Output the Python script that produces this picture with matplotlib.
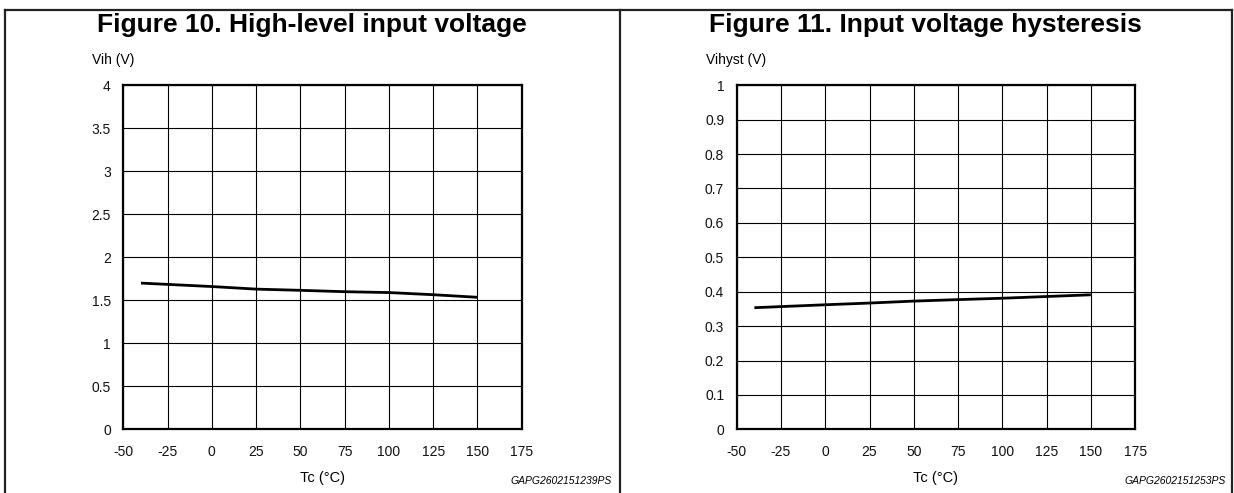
import matplotlib
matplotlib.use("Agg")
import matplotlib.pyplot as plt
from matplotlib.lines import Line2D

plt.rcParams['font.family'] = ['Liberation Sans', 'DejaVu Sans']

# data
tc = [-40, 0, 25, 50, 75, 100, 125, 150]
vih = [1.70, 1.66, 1.63, 1.616, 1.60, 1.59, 1.565, 1.535]
vihyst = [0.3535, 0.362, 0.367, 0.3727, 0.377, 0.381, 0.386, 0.391]

x_ticks = [-50, -25, 0, 25, 50, 75, 100, 125, 150, 175]
vih_ticks = [0, 0.5, 1, 1.5, 2, 2.5, 3, 3.5, 4]
vihyst_ticks = [0, 0.1, 0.2, 0.3, 0.4, 0.5, 0.6, 0.7, 0.8, 0.9, 1]

panels = [
    dict(title="Figure 10. High-level input voltage", ylabel="Vih (V)", y=vih,
         yticks=vih_ticks, ylabels=["0", "0.5", "1", "1.5", "2", "2.5", "3", "3.5", "4"],
         code="GAPG2602151239PS", left=0.0999, cx=(5 + 619.5) / 2 / 1234),
    dict(title="Figure 11. Input voltage hysteresis", ylabel="Vihyst (V)", y=vihyst,
         yticks=vihyst_ticks, ylabels=["0", "0.1", "0.2", "0.3", "0.4", "0.5", "0.6", "0.7", "0.8", "0.9", "1"],
         code="GAPG2602151253PS", left=0.597, cx=(619.5 + 1232) / 2 / 1234),
]

fig = plt.figure(figsize=(12.34, 4.93), dpi=100)

# outer frame and divider
top = 1 - 10/493
for xs, ys in [([5/1234, 5/1234], [0, top]),
               ([5/1234, 1232/1234], [top, top]),
               ([1232/1234, 1232/1234], [0, top]),
               ([619.5/1234, 619.5/1234], [0, top])]:
    fig.add_artist(Line2D(xs, ys, color='#222222', lw=1.6, transform=fig.transFigure))

for p in panels:
    ax = fig.add_axes([p["left"], 0.1292, 0.3229, 0.6978])
    ax.plot(tc, p["y"], color='black', lw=2.0, solid_capstyle='butt')
    ax.set_xlim(-50, 175)
    ax.set_ylim(p["yticks"][0], p["yticks"][-1])
    ax.set_xticks(x_ticks)
    ax.set_xticklabels([str(t) for t in x_ticks])
    ax.set_yticks(p["yticks"])
    ax.set_yticklabels(p["ylabels"])
    ax.grid(True, color='black', lw=0.8)
    ax.set_axisbelow(True)
    ax.tick_params(length=0, labelsize=10, pad=9, colors='#111111')
    ax.tick_params(axis='x', pad=11)
    for s in ax.spines.values():
        s.set_linewidth(1.6)
    ax.set_xlabel("Tc (°C)", fontsize=10.5, labelpad=9)

    fig.text(p["cx"], 1 - 25/493, p["title"], ha='center', va='center',
             fontsize=19, fontweight='bold')
    fig.text(p["left"] - 0.025, 1 - 60/493, p["ylabel"], ha='left', va='center', fontsize=10)
    fig.text(p["left"] + 0.3229 + 0.073, 1 - 481/493, p["code"], ha='right', va='center',
             fontsize=7.5, style='italic')

fig.savefig("out.png", dpi=100)
